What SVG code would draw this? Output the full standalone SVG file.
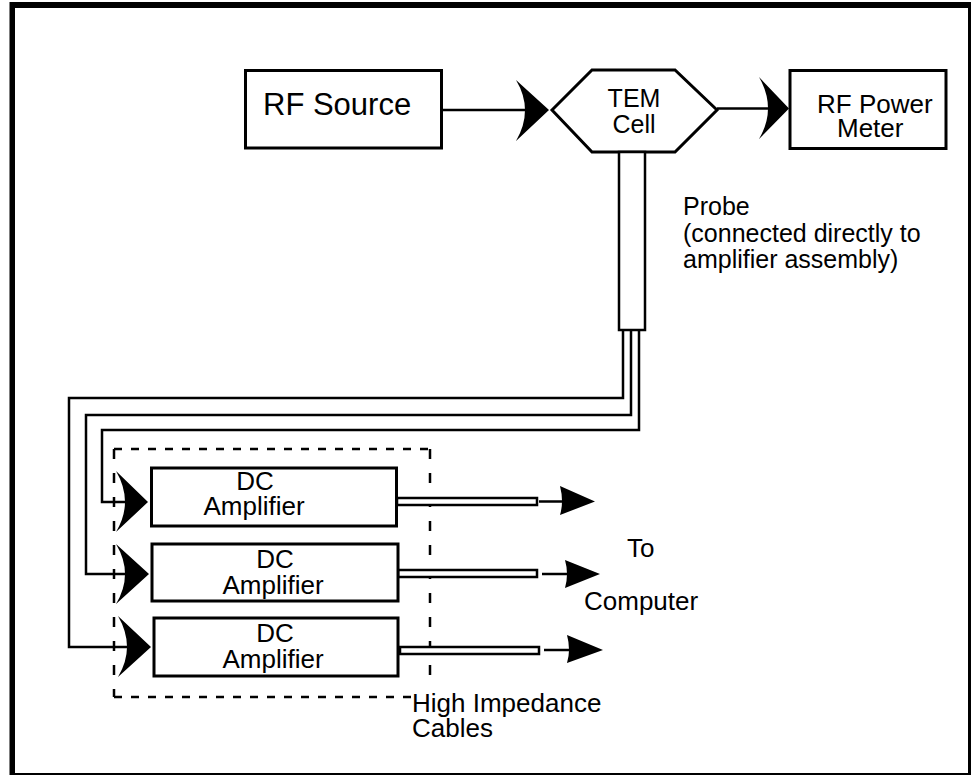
<svg xmlns="http://www.w3.org/2000/svg" width="974" height="775" viewBox="0 0 974 775">
<style>
  .box{fill:#fff;stroke:#000;stroke-width:3}
  .ln{fill:none;stroke:#000;stroke-width:2.5}
  .dash{fill:none;stroke:#000;stroke-width:2.5}
  .ah{fill:#000;stroke:none}
  .cab{fill:#fff;stroke:#000;stroke-width:2.5}
  text{font-family:"Liberation Sans",Arial,Helvetica,sans-serif;fill:#000}
  .t26{font-size:26px}
  .t25{font-size:25px}
</style>
<rect x="0" y="0" width="974" height="775" fill="#fff"/>
<g id="frame">
  <rect x="9.5" y="2" width="961.5" height="773" fill="#000"/>
  <rect x="15" y="8" width="953" height="765" fill="#fff"/>
</g>
<g id="connectors">
  <line class="ln" x1="442" y1="110" x2="530" y2="110"/>
  <path class="ah" d="M516,80 L549,110 L516,141 Q534,110 516,80 Z"/>
  <line class="ln" x1="717" y1="108.5" x2="772" y2="108.5"/>
  <path class="ah" d="M759,77 L789,108.5 L759,139 Q777,108.5 759,77 Z"/>
  <polyline class="ln" points="623,330 623,398 69,398 69,647 135,647"/>
  <polyline class="ln" points="631,330 631,415 86,415 86,574 133,574"/>
  <polyline class="ln" points="639,330 639,430 102,430 102,502 133,502"/>
  <path class="ah" d="M116,471 L148,502 L116,532 Q134,502 116,471 Z"/>
  <path class="ah" d="M116,544 L149,574 L116,604 Q134,574 116,544 Z"/>
  <path class="ah" d="M118,616 L151,647 L118,677 Q136,647 118,616 Z"/>
  <line class="dash" x1="114" y1="449" x2="430" y2="449" stroke-dasharray="8 9"/>
  <line class="dash" x1="114" y1="697" x2="412" y2="697" stroke-dasharray="8 9"/>
  <line class="dash" x1="114" y1="449" x2="114" y2="697" stroke-dasharray="10 14"/>
  <line class="dash" x1="430" y1="449" x2="430" y2="682" stroke-dasharray="10 14"/>
  <rect class="cab" x="397" y="498" width="140" height="7"/>
  <line class="ln" x1="539" y1="501.5" x2="565" y2="501.5"/>
  <path class="ah" d="M560,486 L595,501.5 L560,515 Q564,501.5 560,486 Z"/>
  <rect class="cab" x="398" y="570" width="139" height="7"/>
  <line class="ln" x1="542" y1="574" x2="570" y2="574"/>
  <path class="ah" d="M565,560 L600,574 L565,588 Q569,574 565,560 Z"/>
  <rect class="cab" x="400" y="647" width="139" height="7"/>
  <line class="ln" x1="544" y1="650" x2="572" y2="650"/>
  <path class="ah" d="M567,635 L603,650 L567,663 Q571,650 567,635 Z"/>
</g>
<g id="rf-source">
  <rect class="box" x="245.5" y="70.5" width="196" height="77.5"/>
  <text x="263" y="115" style="font-size:31px">RF Source</text>
</g>
<g id="tem-cell">
  <polygon class="box" points="552,110 592,70 675,70 717,110 675,152 592,152"/>
  <text class="t25" x="634" y="107" text-anchor="middle">TEM</text>
  <text class="t25" x="634" y="133" text-anchor="middle">Cell</text>
</g>
<g id="rf-power-meter">
  <rect class="box" x="790" y="70.5" width="156" height="78"/>
  <text class="t26" x="817" y="113">RF Power</text>
  <text class="t26" x="837" y="137">Meter</text>
</g>
<g id="probe">
  <rect x="619" y="152" width="26" height="178" fill="#fff" stroke="#000" stroke-width="2.5"/>
  <text class="t25" x="683" y="215">Probe</text>
  <text class="t25" x="683" y="242">(connected directly to</text>
  <text class="t25" x="683" y="268">amplifier assembly)</text>
</g>
<g id="dc-amp-1">
  <rect class="box" x="151.5" y="468" width="245" height="58"/>
  <text class="t26" x="255" y="490" text-anchor="middle">DC</text>
  <text class="t26" x="254" y="515" text-anchor="middle">Amplifier</text>
</g>
<g id="dc-amp-2">
  <rect class="box" x="152" y="544" width="246" height="57"/>
  <text class="t26" x="275" y="568" text-anchor="middle">DC</text>
  <text class="t26" x="273" y="594" text-anchor="middle">Amplifier</text>
</g>
<g id="dc-amp-3">
  <rect class="box" x="154" y="618" width="244" height="58"/>
  <text class="t26" x="275" y="642" text-anchor="middle">DC</text>
  <text class="t26" x="273" y="668" text-anchor="middle">Amplifier</text>
</g>
<g id="labels">
  <text class="t26" x="627" y="557">To</text>
  <text class="t26" x="584" y="610">Computer</text>
  <text class="t26" x="412" y="712">High Impedance</text>
  <text class="t26" x="412" y="737">Cables</text>
</g>
</svg>
